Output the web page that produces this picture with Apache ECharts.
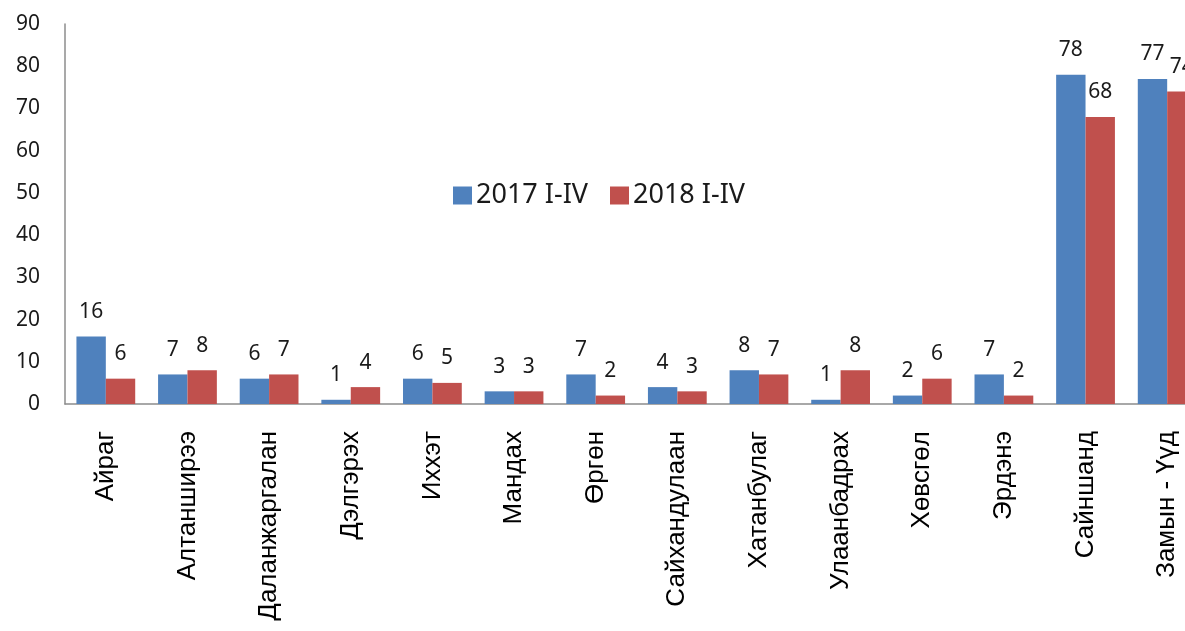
<!DOCTYPE html>
<html>
<head>
<meta charset="utf-8">
<script src="https://cdn.jsdelivr.net/npm/echarts@6/dist/echarts.min.js"></script>
<style>
  html, body { margin: 0; padding: 0; background: #fff; overflow: hidden; }
  #chart { width: 1208px; height: 631px; }
</style>
</head>
<body>
<div id="chart"></div>
<script>
// Сумууд
const categories = ['Айраг', 'Алтанширээ', 'Даланжаргалан', 'Дэлгэрэх', 'Иххэт', 'Мандах', 'Өргөн',
    'Сайхандулаан', 'Хатанбулаг', 'Улаанбадрах', 'Хөвсгөл', 'Эрдэнэ', 'Сайншанд', 'Замын - Үүд'];
const values2017 = [16, 7, 6, 1, 6, 3, 7, 4, 8, 1, 2, 7, 78, 77];
const values2018 = [6, 8, 7, 4, 5, 3, 2, 3, 7, 8, 6, 2, 68, 74];
const seriesNames = ['2017 I-IV', '2018 I-IV'];

// график нь цонхноос баруун тийш бага зэрэг гарна
const chart = echarts.init(document.getElementById('chart'));

const valueFont = '"Noto Sans", "Open Sans", sans-serif';

function barLabel() {
    return {
        show: true,
        position: 'top',
        distance: 14,
        color: '#1a1a1a',
        fontFamily: valueFont,
        fontSize: 21
    };
}

const option = {
    animation: false,
    backgroundColor: '#ffffff',
    legend: {
        data: seriesNames,
        left: 448,
        top: 177,
        itemWidth: 19,
        itemHeight: 18,
        itemGap: 22,
        icon: 'rect',
        textStyle: {
            color: '#1a1a1a',
            fontFamily: valueFont,
            fontSize: 27,
            padding: [0, 0, 0, -1]
        }
    },
    grid: {
        left: 65,
        right: 0,
        top: 24,
        bottom: 227,
        containLabel: false
    },
    xAxis: {
        type: 'category',
        data: categories,
        axisLine: { lineStyle: { color: '#8c8c8c', width: 1.5 } },
        axisTick: { show: false },
        axisLabel: {
            rotate: 90,
            interval: 0,
            margin: 27,
            color: '#000',
            fontFamily: '"Liberation Sans", Arial, sans-serif',
            fontSize: 26
        }
    },
    yAxis: {
        type: 'value',
        min: 0,
        max: 90,
        interval: 10,
        axisLine: { show: true, lineStyle: { color: '#8c8c8c', width: 1.5 } },
        axisTick: { show: false },
        splitLine: { show: false },
        axisLabel: {
            margin: 25,
            color: '#1a1a1a',
            fontFamily: valueFont,
            fontSize: 21
        }
    },
    series: [
        {
            name: seriesNames[0],
            type: 'bar',
            data: values2017,
            barGap: '0%',
            barCategoryGap: '28%',
            itemStyle: { color: '#4f81bd' },
            label: barLabel()
        },
        {
            name: seriesNames[1],
            type: 'bar',
            data: values2018,
            itemStyle: { color: '#c0504d' },
            label: barLabel()
        }
    ]
};

chart.setOption(option);

window.addEventListener('resize', () => {
    chart.resize();
});
</script>
</body>
</html>
